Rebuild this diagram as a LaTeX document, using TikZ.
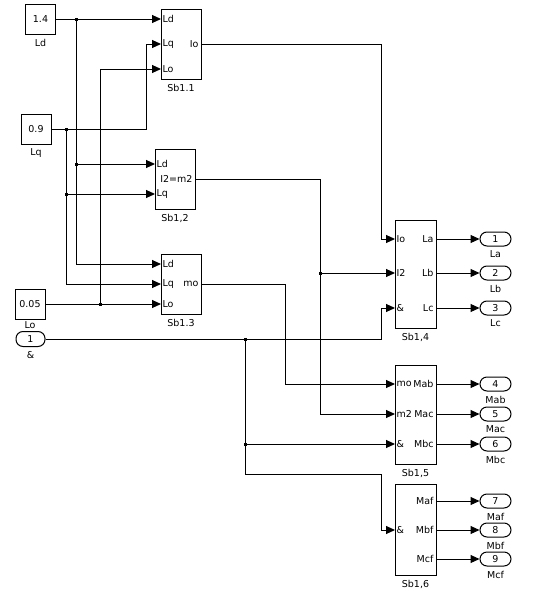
\documentclass[tikz,border=0pt]{standalone}
\usepackage{fontspec}
\setmainfont{DejaVu Sans}
\usetikzlibrary{positioning, arrows.meta}

\begin{document}
\begin{tikzpicture}[x=1pt, y=-1pt, line width=1pt, font=\fontsize{9.5}{11}\selectfont,
	blk/.style={draw, inner sep=0pt, minimum width=40pt},
	cst/.style={draw, inner sep=0pt, minimum width=30pt, minimum height=30pt},
	port/.style={draw, rounded corners=7pt, inner sep=0pt, minimum width=31pt, minimum height=14pt},
	pin/.style={inner sep=1pt, anchor=west}, pout/.style={inner sep=2pt, anchor=east},
	cap/.style={inner sep=1pt, below=3pt of #1},
	sig/.style={-{Triangle[length=9pt, width=8pt]}},
	dot/.style={fill, inner sep=0pt, minimum size=3pt}]
		\useasboundingbox (0,0) rectangle (550,597);
		% sources
		\node[cst] (Ld) at (40.5,19) {1.4}; \node[cap=Ld] (Ldn) {Ld};
		\node[cst] (Lq) at (36,129) {0.9}; \node[cap=Lq] (Lqn) {Lq};
		\node[cst] (Lo) at (30,304) {0.05}; \node[cap=Lo, below=1pt of Lo] (Lon) {Lo};
		\node[port, minimum width=29pt, minimum height=15pt] (In1) at (30.5,339) {1}; \node[cap=In1] (In1n) {\&};
		% subsystems
		\node[blk, minimum height=70pt] (S11) at (181,44) {}; \node[cap=S11] (S11n) {Sb1.1};
		\node[pin] (S11ld) at (161,19) {Ld}; \node[pin] (S11lq) at (161,44) {Lq}; \node[pin] (S11lo) at (161,69) {Lo};
		\node[pout] (S11io) at (201,44) {Io};
		\node[blk, minimum height=60pt] (S12) at (175,179) {}; \node[cap=S12] (S12n) {Sb1,2};
		\node[pin] (S12ld) at (155,164) {Ld}; \node[pin] (S12lq) at (155,194) {Lq};
		\node[pout] (S12o) at (195,179) {I2=m2};
		\node[blk, minimum height=60pt] (S13) at (181,284) {}; \node[cap=S13] (S13n) {Sb1.3};
		\node[pin] (S13ld) at (161,264) {Ld}; \node[pin] (S13lq) at (161,284) {Lq}; \node[pin] (S13lo) at (161,304) {Lo};
		\node[pout] (S13mo) at (201,284) {mo};
		\node[blk, minimum width=41pt, minimum height=108pt] (S14) at (415.5,274) {}; \node[cap=S14] (S14n) {Sb1,4};
		\node[pin] (S14io) at (395,239) {Io}; \node[pin] (S14i2) at (395,273) {I2}; \node[pin] (S14amp) at (395,308) {\&};
		\node[blk, minimum width=41pt, minimum height=99pt] (S15) at (415.5,414.5) {}; \node[cap=S15] (S15n) {Sb1,5};
		\node[pin] (S15mo) at (395,384) {mo}; \node[pin] (S15m2) at (395,414) {m2}; \node[pin] (S15amp) at (395,444) {\&};
		\node[blk, minimum width=41pt, minimum height=91pt] (S16) at (415.5,529.5) {}; \node[cap=S16] (S16n) {Sb1,6};
		\node[pin] (S16amp) at (395,530) {\&};
		% wiring
		\coordinate (j1) at (76,19); \coordinate (j2) at (66,129); \coordinate (j3) at (100,304);
		\coordinate (j4) at (320,273); \coordinate (j5) at (245,339); \coordinate (k1) at (146,129); \coordinate (k2) at (381,474);
		\draw[sig] (Ld) -- (S11ld.west); \draw[sig] (j1) |- (S12ld.west); \draw[sig] (j1) |- (S13ld.west);
		\draw[sig] (Lq) -- (k1) |- (S11lq.west); \draw[sig] (j2) |- (S12lq.west); \draw[sig] (j2) |- (S13lq.west);
		\draw[sig] (Lo) -- (S13lo.west); \draw[sig] (j3) |- (S11lo.west);
		\draw[sig] (S11io.east) -| ([xshift=-14pt]S14io.west) -- (S14io.west);
		\draw[sig] (S12o.east) -| ([xshift=-75pt]S15m2.west) -- (S15m2.west); \draw[sig] (j4) -- (S14i2.west);
		\draw[sig] (S13mo.east) -| ([xshift=-110pt]S15mo.west) -- (S15mo.west);
		\draw[sig] (In1) -| ([xshift=-14pt]S14amp.west) -- (S14amp.west);
		\draw[sig] (j5) |- (S15amp.west); \draw[sig] (j5) |- (k2) |- (S16amp.west);
		\node[dot] (d1) at (j1) {}; \node[dot] (d2) at (j1 |- S12ld) {}; \node[dot] (d3) at (j2) {}; \node[dot] (d4) at (j2 |- S12lq) {};
		\node[dot] (d5) at (j3) {}; \node[dot] (d6) at (j4) {}; \node[dot] (d7) at (j5) {}; \node[dot] (d8) at (j5 |- S15amp) {};
		% outputs
		\node[pout] (oLa) at (436,239) {La}; \node[port] (P1) at (495.5,239) {1}; \node[cap=P1] (P1n) {La}; \draw[sig] (oLa.east) -- (P1);
		\node[pout] (oLb) at (436,273) {Lb}; \node[port] (P2) at (495.5,273) {2}; \node[cap=P2] (P2n) {Lb}; \draw[sig] (oLb.east) -- (P2);
		\node[pout] (oLc) at (436,308) {Lc}; \node[port] (P3) at (495.5,308) {3}; \node[cap=P3] (P3n) {Lc}; \draw[sig] (oLc.east) -- (P3);
		\node[pout] (oMab) at (436,384) {Mab}; \node[port] (P4) at (495.5,384) {4}; \node[cap=P4] (P4n) {Mab}; \draw[sig] (oMab.east) -- (P4);
		\node[pout] (oMac) at (436,414) {Mac}; \node[port] (P5) at (495.5,414) {5}; \node[cap=P5] (P5n) {Mac}; \draw[sig] (oMac.east) -- (P5);
		\node[pout] (oMbc) at (436,444) {Mbc}; \node[port] (P6) at (495.5,444) {6}; \node[cap=P6] (P6n) {Mbc}; \draw[sig] (oMbc.east) -- (P6);
		\node[pout] (oMaf) at (436,501) {Maf}; \node[port] (P7) at (495.5,501) {7}; \node[cap=P7] (P7n) {Maf}; \draw[sig] (oMaf.east) -- (P7);
		\node[pout] (oMbf) at (436,530) {Mbf}; \node[port] (P8) at (495.5,530) {8}; \node[cap=P8] (P8n) {Mbf}; \draw[sig] (oMbf.east) -- (P8);
		\node[pout] (oMcf) at (436,559) {Mcf}; \node[port] (P9) at (495.5,559) {9}; \node[cap=P9] (P9n) {Mcf}; \draw[sig] (oMcf.east) -- (P9);
	\end{tikzpicture}
\end{document}
